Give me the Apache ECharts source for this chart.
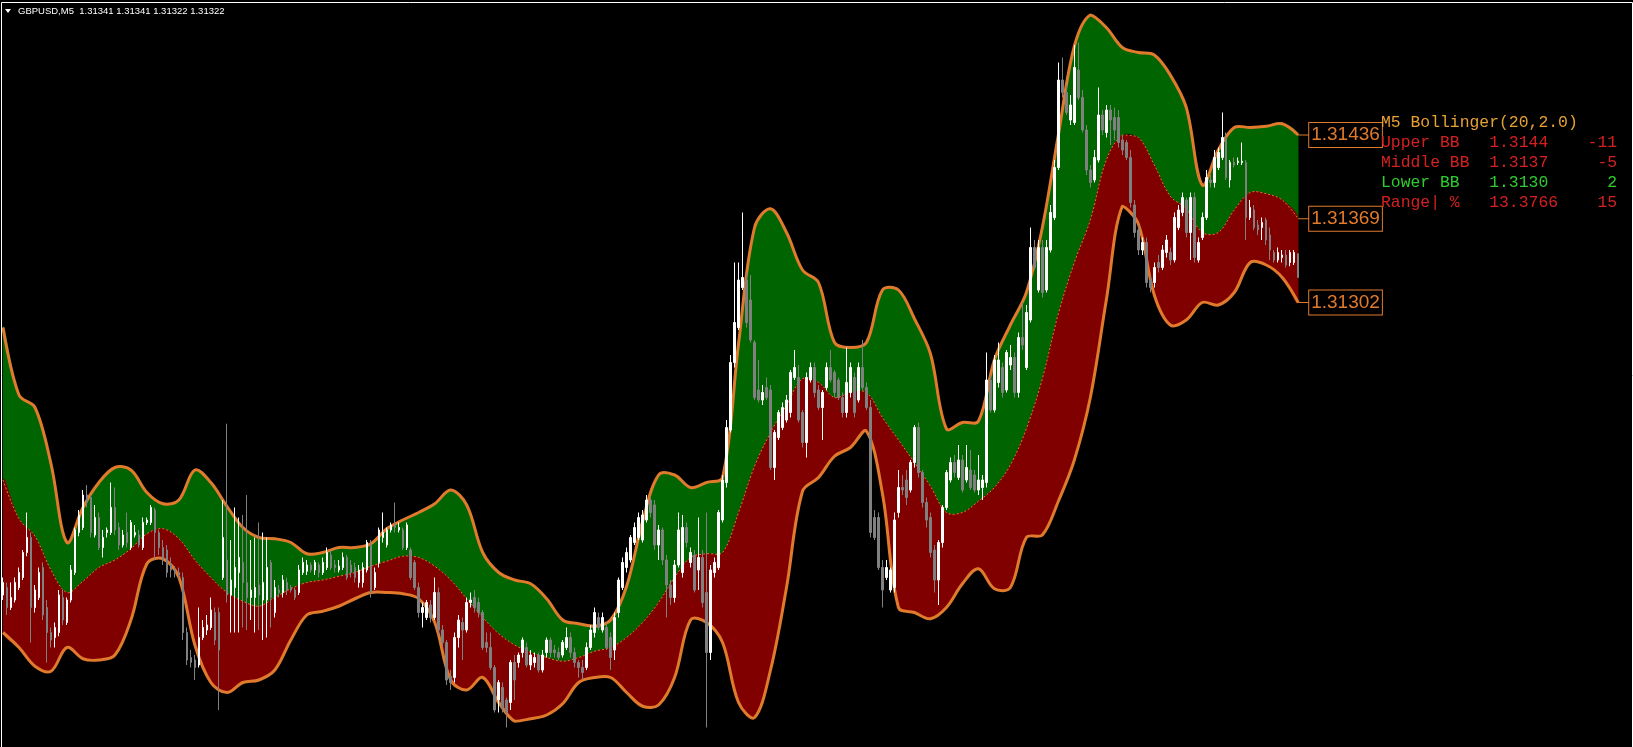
<!DOCTYPE html>
<html><head><meta charset="utf-8">
<script src="https://cdn.jsdelivr.net/npm/echarts@6/dist/echarts.min.js"></script>
<style>html,body{margin:0;padding:0;background:#000;overflow:hidden}#c{width:1633px;height:747px}</style>
</head><body><div id="c"></div>
<script>
const symbolName = 'GBPUSD';
const timeframe = 'M5';

const open = [
1.31068,1.31074,1.31058,1.31064,1.31074,1.31082,1.31102,1.31114,1.31058,1.31066,
1.31090,1.31058,1.31038,1.31034,1.31038,1.31066,1.31046,1.31064,1.31086,1.31118,
1.31122,1.31148,1.31146,1.31116,1.31130,1.31106,1.31118,1.31118,1.31138,1.31122,
1.31108,1.31118,1.31106,1.31116,1.31116,1.31106,1.31126,1.31126,1.31136,1.31118,
1.31106,1.31104,1.31092,1.31088,1.31086,1.31082,1.31038,1.31018,1.31016,1.31012,
1.31034,1.31040,1.31042,1.31054,1.31054,1.31082,1.31096,1.31068,1.31074,1.31086,
1.31094,1.31078,1.31066,1.31066,1.31076,1.31064,1.31064,1.31094,1.31054,1.31072,
1.31070,1.31078,1.31074,1.31072,1.31070,1.31086,1.31087,1.31092,1.31088,1.31092,
1.31086,1.31090,1.31100,1.31092,1.31088,1.31090,1.31098,1.31092,1.31090,1.31078,
1.31078,1.31088,1.31108,1.31074,1.31094,1.31114,1.31108,1.31120,1.31124,1.31120,
1.31120,1.31106,1.31104,1.31094,1.31074,1.31054,1.31050,1.31060,1.31050,1.31070,
1.31040,1.31030,1.31003,1.31002,1.31034,1.31046,1.31040,1.31062,1.31066,1.31062,
1.31054,1.31030,1.31026,1.31010,1.30984,1.30994,1.30984,1.30982,1.31014,1.31014,
1.31022,1.31026,1.31012,1.31014,1.31020,1.31008,1.31022,1.31032,1.31024,1.31022,
1.31020,1.31026,1.31034,1.31022,1.31014,1.31010,1.31010,1.31026,1.31038,1.31050,
1.31040,1.31042,1.31034,1.31024,1.31054,1.31074,1.31090,1.31096,1.31110,1.31114,
1.31112,1.31128,1.31144,1.31140,1.31108,1.31120,1.31096,1.31076,1.31066,1.31092,
1.31086,1.31122,1.31094,1.31100,1.31088,1.31098,1.31070,1.31022,1.31086,1.31090,
1.31128,1.31158,1.31200,1.31254,1.31282,1.31314,1.31320,1.31304,1.31270,1.31232,
1.31224,1.31234,1.31232,1.31170,1.31194,1.31202,1.31208,1.31214,1.31242,1.31242,
1.31214,1.31190,1.31240,1.31250,1.31232,1.31218,1.31234,1.31250,1.31246,1.31240,
1.31226,1.31214,1.31230,1.31242,1.31224,1.31250,1.31234,1.31218,1.31130,1.31130,
1.31090,1.31082,1.31072,1.31074,1.31134,1.31154,1.31160,1.31152,1.31174,1.31202,
1.31166,1.31142,1.31130,1.31104,1.31080,1.31110,1.31138,1.31160,1.31174,1.31162,
1.31176,1.31160,1.31168,1.31164,1.31152,1.31154,1.31158,1.31240,1.31216,1.31238,
1.31250,1.31232,1.31252,1.31258,1.31230,1.31274,1.31250,1.31288,1.31346,1.31312,
1.31346,1.31312,1.31344,1.31370,1.31410,1.31480,1.31470,1.31448,1.31446,1.31488,
1.31466,1.31440,1.31408,1.31400,1.31416,1.31452,1.31438,1.31456,1.31450,1.31450,
1.31432,1.31430,1.31418,1.31380,1.31360,1.31344,1.31350,1.31320,1.31318,1.31334,
1.31330,1.31342,1.31342,1.31336,1.31362,1.31374,1.31384,1.31358,1.31386,1.31336,
1.31354,1.31370,1.31400,1.31398,1.31410,1.31418,1.31434,1.31400,1.31414,1.31414,
1.31414,1.31414,1.31370,1.31376,1.31364,1.31362,1.31368,1.31356,1.31342,1.31336,
1.31338,1.31340,1.31334,1.31334,1.31341];

const close = [
1.31078,1.31058,1.31066,1.31078,1.31086,1.31102,1.31114,1.31058,1.31072,1.31086,
1.31052,1.31038,1.31032,1.31042,1.31068,1.31048,1.31064,1.31088,1.31120,1.31132,
1.31148,1.31142,1.31118,1.31130,1.31106,1.31114,1.31120,1.31138,1.31120,1.31108,
1.31116,1.31110,1.31126,1.31118,1.31108,1.31126,1.31128,1.31138,1.31118,1.31106,
1.31096,1.31086,1.31088,1.31086,1.31084,1.31038,1.31016,1.31014,1.31010,1.31034,
1.31042,1.31044,1.31056,1.31032,1.31024,1.31114,1.31068,1.31080,1.31090,1.31098,
1.31078,1.31066,1.31072,1.31074,1.31068,1.31078,1.31090,1.31066,1.31074,1.31070,
1.31080,1.31072,1.31072,1.31066,1.31088,1.31094,1.31092,1.31088,1.31094,1.31086,
1.31094,1.31102,1.31090,1.31090,1.31091,1.31098,1.31082,1.31086,1.31082,1.31088,
1.31090,1.31110,1.31070,1.31086,1.31120,1.31118,1.31120,1.31124,1.31122,1.31122,
1.31106,1.31124,1.31082,1.31074,1.31054,1.31058,1.31062,1.31050,1.31070,1.31040,
1.31030,1.31000,1.30998,1.31034,1.31048,1.31040,1.31062,1.31064,1.31058,1.31054,
1.31026,1.31026,1.31010,1.30976,1.30998,1.30978,1.30974,1.31014,1.31000,1.31020,
1.31032,1.31012,1.31020,1.31018,1.31008,1.31020,1.31032,1.31022,1.31022,1.31018,
1.31030,1.31034,1.31022,1.31014,1.31010,1.31006,1.31026,1.31040,1.31054,1.31042,
1.31050,1.31026,1.31018,1.31050,1.31080,1.31094,1.31102,1.31114,1.31122,1.31130,
1.31132,1.31144,1.31134,1.31108,1.31120,1.31096,1.31076,1.31066,1.31092,1.31120,
1.31122,1.31110,1.31102,1.31072,1.31098,1.31062,1.31022,1.31088,1.31094,1.31134,
1.31160,1.31202,1.31254,1.31286,1.31320,1.31322,1.31286,1.31272,1.31226,1.31224,
1.31230,1.31226,1.31170,1.31198,1.31214,1.31218,1.31224,1.31246,1.31250,1.31208,
1.31190,1.31242,1.31250,1.31230,1.31218,1.31230,1.31250,1.31240,1.31230,1.31226,
1.31214,1.31238,1.31250,1.31214,1.31250,1.31234,1.31218,1.31118,1.31114,1.31090,
1.31072,1.31090,1.31088,1.31128,1.31154,1.31152,1.31146,1.31174,1.31202,1.31166,
1.31142,1.31128,1.31102,1.31080,1.31110,1.31138,1.31166,1.31174,1.31166,1.31176,
1.31152,1.31170,1.31154,1.31152,1.31160,1.31160,1.31240,1.31216,1.31256,1.31256,
1.31230,1.31262,1.31258,1.31230,1.31274,1.31268,1.31294,1.31346,1.31330,1.31346,
1.31310,1.31346,1.31374,1.31410,1.31480,1.31470,1.31454,1.31460,1.31490,1.31466,
1.31440,1.31408,1.31398,1.31418,1.31452,1.31440,1.31456,1.31448,1.31440,1.31430,
1.31424,1.31418,1.31382,1.31358,1.31344,1.31350,1.31318,1.31314,1.31330,1.31330,
1.31344,1.31352,1.31336,1.31370,1.31376,1.31386,1.31358,1.31386,1.31338,1.31350,
1.31370,1.31402,1.31398,1.31418,1.31422,1.31434,1.31402,1.31414,1.31412,1.31415,
1.31415,1.31370,1.31378,1.31362,1.31360,1.31366,1.31352,1.31344,1.31336,1.31342,
1.31340,1.31332,1.31342,1.31342,1.31322];

const low = [
1.31064,1.31052,1.31056,1.31062,1.31072,1.31080,1.31099,1.31030,1.31054,1.31064,
1.31048,1.31014,1.31026,1.31026,1.31035,1.31044,1.31044,1.31062,1.31084,1.31115,
1.31120,1.31138,1.31114,1.31114,1.31104,1.31098,1.31114,1.31116,1.31116,1.31104,
1.31106,1.31106,1.31104,1.31114,1.31106,1.31104,1.31124,1.31124,1.31096,1.31100,
1.31092,1.31082,1.31082,1.31082,1.31080,1.31032,1.31012,1.31010,1.31000,1.31010,
1.31032,1.31036,1.31040,1.31028,1.30976,1.31080,1.31062,1.31038,1.31038,1.31038,
1.31042,1.31040,1.31048,1.31038,1.31040,1.31032,1.31034,1.31042,1.31050,1.31066,
1.31066,1.31068,1.31070,1.31064,1.31068,1.31084,1.31084,1.31086,1.31084,1.31082,
1.31084,1.31088,1.31088,1.31086,1.31086,1.31088,1.31080,1.31082,1.31078,1.31074,
1.31074,1.31086,1.31066,1.31072,1.31090,1.31110,1.31106,1.31118,1.31118,1.31118,
1.31104,1.31104,1.31080,1.31072,1.31050,1.31042,1.31048,1.31046,1.31048,1.31036,
1.31026,1.30996,1.30992,1.30998,1.31026,1.31016,1.31038,1.31058,1.31054,1.31050,
1.31024,1.31022,1.31008,1.30974,1.30974,1.30974,1.30962,1.30976,1.30984,1.31010,
1.31018,1.31010,1.31008,1.31010,1.31006,1.31006,1.31018,1.31018,1.31018,1.31016,
1.31018,1.31024,1.31018,1.31010,1.31002,1.31000,1.31008,1.31024,1.31034,1.31040,
1.31038,1.31024,1.31008,1.31016,1.31050,1.31072,1.31086,1.31094,1.31108,1.31112,
1.31110,1.31126,1.31130,1.31104,1.31096,1.31092,1.31050,1.31060,1.31062,1.31090,
1.31082,1.31106,1.31090,1.31070,1.31072,1.31058,1.30962,1.31016,1.31082,1.31088,
1.31126,1.31154,1.31198,1.31250,1.31280,1.31312,1.31282,1.31270,1.31224,1.31222,
1.31220,1.31224,1.31168,1.31160,1.31192,1.31200,1.31206,1.31210,1.31240,1.31206,
1.31186,1.31178,1.31238,1.31226,1.31216,1.31192,1.31232,1.31238,1.31226,1.31224,
1.31210,1.31210,1.31226,1.31210,1.31222,1.31232,1.31216,1.31114,1.31112,1.31088,
1.31058,1.31080,1.31070,1.31070,1.31130,1.31148,1.31140,1.31150,1.31170,1.31162,
1.31138,1.31122,1.31098,1.31070,1.31060,1.31106,1.31136,1.31158,1.31162,1.31160,
1.31150,1.31158,1.31152,1.31150,1.31148,1.31144,1.31154,1.31214,1.31214,1.31234,
1.31226,1.31230,1.31248,1.31226,1.31226,1.31264,1.31248,1.31286,1.31328,1.31310,
1.31306,1.31310,1.31342,1.31368,1.31408,1.31466,1.31452,1.31444,1.31444,1.31464,
1.31438,1.31404,1.31394,1.31398,1.31414,1.31436,1.31434,1.31428,1.31432,1.31426,
1.31420,1.31416,1.31378,1.31354,1.31340,1.31340,1.31314,1.31310,1.31314,1.31326,
1.31328,1.31338,1.31332,1.31334,1.31360,1.31371,1.31354,1.31336,1.31334,1.31334,
1.31352,1.31368,1.31394,1.31394,1.31408,1.31416,1.31400,1.31394,1.31410,1.31412,
1.31412,1.31352,1.31368,1.31360,1.31356,1.31352,1.31348,1.31336,1.31334,1.31334,
1.31334,1.31330,1.31331,1.31332,1.31322];

const high = [
1.31082,1.31078,1.31078,1.31082,1.31090,1.31104,1.31134,1.31118,1.31076,1.31090,
1.31094,1.31064,1.31042,1.31046,1.31072,1.31072,1.31066,1.31092,1.31122,1.31136,
1.31152,1.31156,1.31148,1.31140,1.31134,1.31120,1.31122,1.31158,1.31154,1.31126,
1.31120,1.31134,1.31128,1.31124,1.31120,1.31130,1.31130,1.31140,1.31138,1.31120,
1.31112,1.31108,1.31098,1.31091,1.31090,1.31086,1.31042,1.31024,1.31020,1.31058,
1.31048,1.31052,1.31066,1.31058,1.31058,1.31144,1.31205,1.31112,1.31138,1.31130,
1.31132,1.31148,1.31112,1.31114,1.31126,1.31118,1.31114,1.31096,1.31080,1.31076,
1.31084,1.31082,1.31076,1.31074,1.31092,1.31098,1.31096,1.31094,1.31096,1.31094,
1.31098,1.31106,1.31104,1.31096,1.31096,1.31102,1.31100,1.31096,1.31094,1.31092,
1.31094,1.31112,1.31112,1.31090,1.31122,1.31134,1.31122,1.31126,1.31142,1.31126,
1.31122,1.31126,1.31106,1.31096,1.31078,1.31062,1.31064,1.31064,1.31082,1.31074,
1.31044,1.31032,1.31008,1.31038,1.31052,1.31050,1.31066,1.31070,1.31072,1.31066,
1.31056,1.31038,1.31038,1.31012,1.31000,1.30998,1.30986,1.31016,1.31020,1.31022,
1.31034,1.31030,1.31024,1.31022,1.31022,1.31024,1.31034,1.31034,1.31028,1.31026,
1.31032,1.31042,1.31038,1.31026,1.31016,1.31016,1.31030,1.31044,1.31058,1.31054,
1.31054,1.31046,1.31038,1.31054,1.31082,1.31098,1.31106,1.31116,1.31126,1.31134,
1.31136,1.31148,1.31146,1.31144,1.31124,1.31122,1.31100,1.31080,1.31096,1.31134,
1.31132,1.31126,1.31106,1.31104,1.31130,1.31104,1.31134,1.31092,1.31098,1.31136,
1.31164,1.31208,1.31260,1.31334,1.31334,1.31374,1.31326,1.31324,1.31272,1.31256,
1.31236,1.31242,1.31236,1.31200,1.31216,1.31222,1.31228,1.31248,1.31264,1.31252,
1.31216,1.31246,1.31254,1.31254,1.31236,1.31232,1.31254,1.31264,1.31248,1.31242,
1.31230,1.31266,1.31254,1.31246,1.31254,1.31272,1.31238,1.31224,1.31136,1.31134,
1.31096,1.31096,1.31090,1.31134,1.31168,1.31164,1.31168,1.31176,1.31204,1.31206,
1.31168,1.31146,1.31134,1.31108,1.31112,1.31140,1.31168,1.31178,1.31180,1.31188,
1.31180,1.31188,1.31184,1.31168,1.31180,1.31164,1.31262,1.31244,1.31260,1.31270,
1.31254,1.31264,1.31268,1.31262,1.31278,1.31302,1.31300,1.31362,1.31352,1.31352,
1.31352,1.31352,1.31380,1.31416,1.31494,1.31498,1.31476,1.31468,1.31508,1.31510,
1.31472,1.31444,1.31412,1.31424,1.31474,1.31456,1.31460,1.31460,1.31458,1.31456,
1.31436,1.31432,1.31424,1.31384,1.31364,1.31354,1.31354,1.31324,1.31334,1.31340,
1.31348,1.31356,1.31346,1.31374,1.31380,1.31390,1.31386,1.31390,1.31390,1.31354,
1.31374,1.31408,1.31404,1.31424,1.31426,1.31454,1.31438,1.31416,1.31418,1.31418,
1.31430,1.31416,1.31384,1.31380,1.31368,1.31370,1.31370,1.31362,1.31344,1.31346,
1.31344,1.31344,1.31344,1.31344,1.31341];

// Bollinger bands, one value every 4 bars (bar 0, 4, 8 ... 324)
const bandStep = 4;
const bandUpper = [
1.31282,1.31228,1.31218,1.31173,1.31110,1.31138,1.31158,1.31170,1.31168,1.31150,
1.31141,1.31144,1.31168,1.31158,1.31139,1.31122,1.31114,1.31113,1.31110,1.31101,
1.31102,1.31106,1.31106,1.31109,1.31121,1.31128,1.31134,1.31141,1.31152,1.31140,
1.31102,1.31086,1.31080,1.31077,1.31065,1.31048,1.31045,1.31043,1.31048,1.31075,
1.31127,1.31164,1.31164,1.31154,1.31158,1.31162,1.31269,1.31362,1.31377,1.31358,
1.31328,1.31318,1.31270,1.31266,1.31270,1.31312,1.31312,1.31289,1.31261,1.31201,
1.31206,1.31207,1.31256,1.31284,1.31310,1.31362,1.31436,1.31507,1.31532,1.31522,
1.31506,1.31502,1.31500,1.31484,1.31458,1.31396,1.31424,1.31442,1.31442,1.31443,
1.31445,1.31436];
const bandMiddle = [
1.31160,1.31129,1.31115,1.31088,1.31070,1.31079,1.31090,1.31096,1.31105,1.31117,
1.31121,1.31113,1.31096,1.31082,1.31070,1.31063,1.31059,1.31066,1.31073,1.31078,
1.31080,1.31083,1.31086,1.31091,1.31095,1.31099,1.31098,1.31091,1.31080,1.31065,
1.31050,1.31037,1.31028,1.31022,1.31018,1.31015,1.31018,1.31023,1.31026,1.31034,
1.31046,1.31062,1.31082,1.31098,1.31101,1.31102,1.31134,1.31171,1.31198,1.31220,
1.31241,1.31238,1.31226,1.31230,1.31230,1.31210,1.31192,1.31174,1.31155,1.31134,
1.31134,1.31143,1.31154,1.31172,1.31201,1.31241,1.31293,1.31334,1.31368,1.31416,
1.31436,1.31434,1.31412,1.31387,1.31377,1.31358,1.31358,1.31376,1.31390,1.31389,
1.31384,1.31369];
const bandLower = [
1.31038,1.31026,1.31011,1.31007,1.31026,1.31017,1.31016,1.31020,1.31048,1.31093,
1.31097,1.31082,1.31028,1.30998,1.30990,1.30998,1.31000,1.31008,1.31032,1.31052,
1.31055,1.31059,1.31065,1.31070,1.31070,1.31069,1.31065,1.31046,1.31000,1.30992,
1.31002,1.30982,1.30967,1.30969,1.30972,1.30981,1.30998,1.31002,1.31002,1.30990,
1.30979,1.30980,1.31002,1.31048,1.31046,1.31030,1.30982,1.30970,1.31008,1.31074,
1.31151,1.31162,1.31179,1.31186,1.31199,1.31149,1.31058,1.31054,1.31049,1.31058,
1.31077,1.31089,1.31073,1.31074,1.31114,1.31116,1.31143,1.31176,1.31226,1.31304,
1.31379,1.31365,1.31308,1.31284,1.31288,1.31302,1.31300,1.31310,1.31334,1.31332,
1.31322,1.31302];

const infoTitle = 'M5 Bollinger(20,2.0)';
const infoNames = ['Upper BB', 'Middle BB', 'Lower BB', 'Range| %'];
const infoValues = ['1.3144', '1.3137', '1.3130', '13.3766'];
const infoChanges = ['-11', '-5', '2', '15'];

// ---------- build ----------
const ORANGE = '#E07A2C';
const GREEN_FILL = '#006400';
const RED_FILL = '#800000';
const infoColors = ['#D42020', '#D42020', '#2ECC2E', '#D42020'];
const nSlots = 408;
const SMOOTH = 0.35;
const cats = Array.from({length: nSlots}, (_, i) => String(i));
const candleData = open.map((o, i) => [o, close[i], low[i], high[i]]);
const lastK = bandUpper.length - 1;

function bbox(points) {
  let x0 = Infinity, y0 = Infinity, x1 = -Infinity, y1 = -Infinity;
  points.forEach(p => { x0 = Math.min(x0, p[0]); y0 = Math.min(y0, p[1]);
    x1 = Math.max(x1, p[0]); y1 = Math.max(y1, p[1]); });
  return [[x0, y0], [x1, y1]];
}
function smoothShape(points) {
  return {points, smooth: SMOOTH, smoothConstraint: bbox(points)};
}

function renderBands(params, api) {
  const pts = arr => arr.map((v, k) => api.coord([k * bandStep, v]));
  const pu = pts(bandUpper), pm = pts(bandMiddle), pl = pts(bandLower);
  const children = [
    {type: 'polygon', shape: smoothShape(pu.concat(pm.slice().reverse())),
     style: {fill: GREEN_FILL, stroke: GREEN_FILL, lineWidth: 0.5}},
    {type: 'polygon', shape: smoothShape(pm.concat(pl.slice().reverse())),
     style: {fill: RED_FILL, stroke: RED_FILL, lineWidth: 0.5}},
    {type: 'polyline', shape: smoothShape(pm),
     style: {fill: null, stroke: ORANGE, lineWidth: 1, lineDash: [2, 2]}},
    {type: 'polyline', shape: smoothShape(pu),
     style: {fill: null, stroke: ORANGE, lineWidth: 3, lineJoin: 'round'}},
    {type: 'polyline', shape: smoothShape(pl),
     style: {fill: null, stroke: ORANGE, lineWidth: 3, lineJoin: 'round'}}
  ];
  [[bandUpper, pu], [bandMiddle, pm], [bandLower, pl]].forEach(([vals, p]) => {
    const e = p[lastK];
    children.push({type: 'line', shape: {x1: e[0], y1: e[1], x2: e[0] + 11, y2: e[1]},
      style: {stroke: ORANGE, lineWidth: 1}});
    children.push({type: 'text', style: {
      text: vals[lastK].toFixed(5), x: e[0] + 11, y: e[1], verticalAlign: 'middle',
      fill: ORANGE, font: '19px "Liberation Sans"', lineHeight: 22,
      backgroundColor: '#000', borderColor: ORANGE, borderWidth: 1, padding: [1, 2, 1, 2]}});
  });
  return {type: 'group', children};
}

const li = open.length - 1;
const headerText = symbolName + ',' + timeframe + '  ' +
  [open[li], high[li], low[li], close[li]].map(v => v.toFixed(5)).join(' ');

const infoLines = infoNames.map((n, i) =>
  n.padEnd(11) + infoValues[i] + infoChanges[i].padStart(24 - 11 - infoValues[i].length));

const graphics = [
  {type: 'rect', silent: true, z: 100, shape: {x: 1.5, y: 2.5, width: 1631, height: 800},
   style: {fill: 'none', stroke: '#FFFFFF', lineWidth: 1}},
  {type: 'polygon', silent: true, z: 100, shape: {points: [[5, 9], [11, 9], [8, 13]]},
   style: {fill: '#FFFFFF'}},
  {type: 'text', silent: true, z: 100, style: {text: headerText, x: 18, y: 11,
   fill: '#FFFFFF', font: '9.5px "Liberation Sans"', verticalAlign: 'middle'}},
  {type: 'text', silent: true, z: 100, style: {text: infoTitle, x: 1381, y: 123,
   fill: '#E6A033', font: '16.4px "Liberation Mono"', verticalAlign: 'middle'}}
];
infoLines.forEach((t, i) => graphics.push({type: 'text', silent: true, z: 100,
  style: {text: t, x: 1381, y: 143 + i * 20, fill: infoColors[i],
  font: '16.4px "Liberation Mono"', verticalAlign: 'middle'}}));

const chart = echarts.init(document.getElementById('c'), null, {renderer: 'canvas', width: 1633, height: 747});
chart.setOption({
  animation: false,
  backgroundColor: '#000000',
  grid: {left: 1, right: 1, top: 2, bottom: 0},
  xAxis: [
    {type: 'category', data: cats, show: false, boundaryGap: true},
    {type: 'value', min: -0.5, max: nSlots - 0.5, show: false}
  ],
  yAxis: [{type: 'value', min: 1.309464, max: 1.315424, show: false}],
  series: [
    {
      type: 'custom', name: 'Bollinger Bands', xAxisIndex: 1, yAxisIndex: 0, z: 2,
      silent: true, clip: false, data: [[0, bandMiddle[0]]], encode: {x: 0, y: 1},
      renderItem: renderBands
    },
    {
      type: 'candlestick', name: symbolName, xAxisIndex: 0, yAxisIndex: 0, z: 10,
      data: candleData, barWidth: 2, silent: true,
      itemStyle: {color: '#FFFFFF', color0: '#808080', borderColor: '#FFFFFF',
        borderColor0: '#808080', borderWidth: 1}
    }
  ],
  graphic: graphics
});
</script>
</body></html>
